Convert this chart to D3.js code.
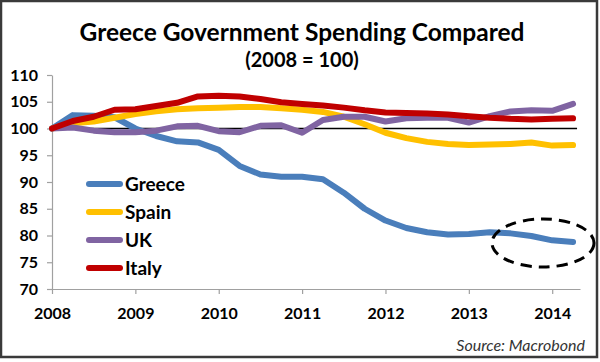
<!DOCTYPE html>
<html><head><meta charset="utf-8">
<script src="https://cdn.jsdelivr.net/npm/d3@7"></script>
<style>
html,body{margin:0;padding:0;background:#fff;}
svg{display:block;font-family:Lato,"Open Sans",sans-serif;}
</style></head><body>
<svg id="c" width="600" height="362"></svg>
<script>
// ---- data (quarterly, 2008 Q1 .. 2014 Q2; 2008 = 100) ----
const startYear = 2008;
const yearTicks = [2008, 2009, 2010, 2011, 2012, 2013, 2014];
const yTicks = [70, 75, 80, 85, 90, 95, 100, 105, 110];
const seriesNames = ["Greece", "Spain", "UK", "Italy"];
const greece = [100, 102.5, 102.4, 102.1, 100.0, 98.6, 97.6, 97.4, 96.0, 93.0, 91.4, 91.0, 91.0, 90.5, 88.0, 85.0, 82.8, 81.4, 80.6, 80.2, 80.3, 80.6, 80.4, 79.9, 79.1, 78.8];
const spain  = [100, 101.0, 101.3, 102.0, 102.7, 103.2, 103.6, 103.8, 103.9, 104.0, 104.0, 103.8, 103.5, 103.1, 102.2, 100.8, 99.2, 98.2, 97.5, 97.1, 96.9, 97.0, 97.1, 97.4, 96.8, 96.9];
const uk     = [100, 100.2, 99.6, 99.3, 99.3, 99.6, 100.4, 100.5, 99.5, 99.3, 100.5, 100.6, 99.2, 101.6, 102.2, 102.2, 101.3, 101.9, 102.0, 102.0, 101.1, 102.3, 103.2, 103.4, 103.3, 104.6];
const italy  = [100, 101.4, 102.2, 103.5, 103.6, 104.2, 104.8, 106.0, 106.1, 106.0, 105.5, 104.9, 104.6, 104.3, 103.9, 103.4, 103.0, 102.9, 102.8, 102.6, 102.3, 102.0, 101.8, 101.7, 101.8, 101.9];
const baseline = 100;

const colors = {Greece: "#4a7ebb", Spain: "#ffc000", UK: "#8064a2", Italy: "#c00000"};
const seriesData = {Greece: greece, Spain: spain, UK: uk, Italy: italy};

const svg = d3.select("#c");
// outer frame
svg.append("rect").attr("x", 1).attr("y", 1).attr("width", 596).attr("height", 356)
  .attr("fill", "#fff").attr("stroke", "#3a3a3a").attr("stroke-width", 2.5);

const x = d3.scaleLinear().domain([2008, 2014 + 1/3]).range([52, 580]);
const y = d3.scaleLinear().domain([70, 110]).range([289, 75]);

// titles
svg.append("text").attr("x", 302).attr("y", 41).attr("text-anchor", "middle")
  .attr("font-size", 24.5).attr("font-weight", "bold").attr("fill", "#000")
  .text("Greece Government Spending Compared");
svg.append("text").attr("x", 302).attr("y", 67).attr("text-anchor", "middle")
  .attr("font-size", 20).attr("font-weight", "bold").attr("fill", "#000")
  .text("(2008 = 100)");

// axes
const yAxis = svg.append("g").attr("transform", "translate(52,0)")
  .call(d3.axisLeft(y).tickValues(yTicks).tickSize(5).tickPadding(9).tickSizeOuter(0));
const xAxis = svg.append("g").attr("transform", "translate(0,289)")
  .call(d3.axisBottom(x).tickValues(yearTicks).tickFormat(d3.format("d")).tickSize(5).tickPadding(14).tickSizeOuter(0));
[yAxis, xAxis].forEach(g => {
  g.select(".domain").attr("stroke", "#a0a0a0").attr("stroke-width", 1.2);
  g.selectAll(".tick line").attr("stroke", "#a0a0a0").attr("stroke-width", 1.2);
  g.selectAll(".tick text").attr("fill", "#000").attr("font-size", 16)
    .attr("font-weight", "bold").attr("font-family", "Lato, sans-serif");
});

// 100 reference line
svg.append("line").attr("x1", x(2008)).attr("x2", x(2014.25) + 4)
  .attr("y1", y(baseline)).attr("y2", y(baseline))
  .attr("stroke", "#000").attr("stroke-width", 1.3);

// series lines
const line = d3.line().x((d, i) => x(startYear + i / 4)).y(d => y(d));
seriesNames.forEach(name => {
  svg.append("path").datum(seriesData[name]).attr("d", line)
    .attr("fill", "none").attr("stroke", colors[name]).attr("stroke-width", 6)
    .attr("stroke-linecap", "round").attr("stroke-linejoin", "round");
});

// legend
const legendY = [184, 212, 240, 268];
seriesNames.forEach((name, i) => {
  svg.append("line").attr("x1", 89).attr("x2", 120).attr("y1", legendY[i]).attr("y2", legendY[i])
    .attr("stroke", colors[name]).attr("stroke-width", 6).attr("stroke-linecap", "round");
  svg.append("text").attr("x", 125).attr("y", legendY[i]).attr("dy", "0.36em")
    .attr("font-size", 19).attr("font-weight", "bold").attr("fill", "#000").text(name);
});

// dashed highlight ellipse
svg.append("ellipse").attr("cx", 543).attr("cy", 243).attr("rx", 51).attr("ry", 24)
  .attr("fill", "none").attr("stroke", "#000").attr("stroke-width", 3)
  .attr("stroke-dasharray", "11,7");

// source
svg.append("text").attr("x", 585).attr("y", 351).attr("text-anchor", "end")
  .attr("font-size", 16).attr("font-style", "italic").attr("fill", "#333")
  .text("Source: Macrobond");
</script>
</body></html>
